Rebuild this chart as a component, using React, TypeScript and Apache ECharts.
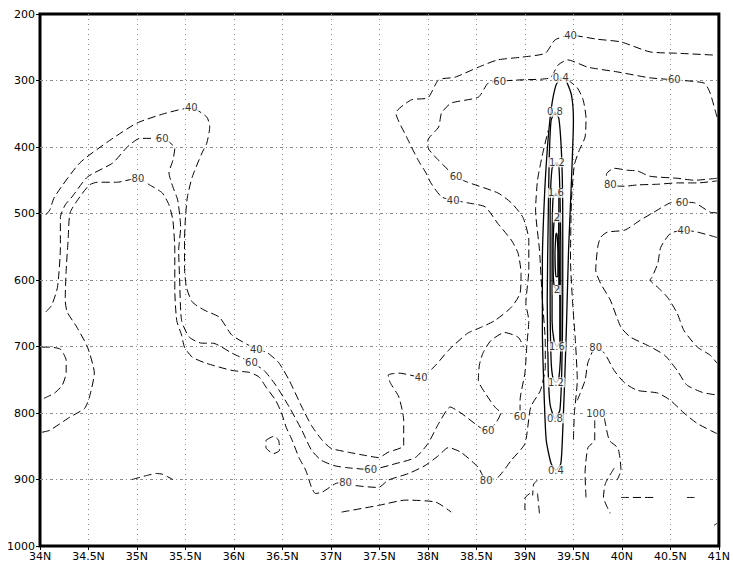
import React, { useEffect, useRef } from "react";
import * as echarts from "echarts";

// Axis ranges (latitude in degrees N, pressure in hPa)
const LAT_MIN = 34;
const LAT_MAX = 41;
const LAT_STEP = 0.5;
const P_MIN = 200;
const P_MAX = 1000;
const P_STEP = 100;

// Dashed contours: [latitude, pressure]
const c40Main = [
  [34.06, 502], [34.1, 495], [34.15, 475], [34.41, 424], [34.72, 390], [35.0, 364], [35.3, 349],
  [35.56, 341], [35.72, 355], [35.75, 370], [35.72, 394], [35.67, 409], [35.57, 445], [35.52, 475],
  [35.5, 506], [35.49, 540], [35.49, 581], [35.51, 611], [35.57, 633], [35.69, 645], [35.85, 656],
  [35.98, 683], [36.23, 704], [36.34, 709], [36.46, 724], [36.57, 751], [36.7, 791], [36.8, 819],
  [36.91, 841], [37.0, 853], [37.18, 859], [37.36, 864], [37.49, 867], [37.59, 859], [37.75, 849],
  [37.75, 811], [37.7, 776], [37.61, 754], [37.59, 743], [37.7, 740], [37.93, 746], [38.08, 728],
  [38.21, 706], [38.41, 680], [38.55, 671], [38.69, 661], [38.86, 641], [38.95, 620], [38.96, 590],
  [38.93, 560], [38.86, 540], [38.72, 515], [38.59, 490], [38.41, 484], [38.26, 480], [38.14, 475],
  [38.03, 454], [37.98, 439], [37.9, 420], [37.78, 385], [37.67, 349], [37.83, 329], [38.0, 326],
  [38.11, 299], [38.28, 295], [38.52, 280], [38.72, 269], [38.96, 265], [39.21, 259], [39.31, 239],
  [39.47, 232], [39.75, 238], [39.99, 242], [40.29, 257], [40.57, 259], [40.98, 262],
];
const c40Right = [
  [40.98, 536], [40.78, 528], [40.64, 525], [40.5, 530], [40.4, 551], [40.37, 575], [40.31, 596],
  [40.29, 600], [40.37, 611], [40.47, 626], [40.57, 650], [40.64, 676], [40.78, 701], [40.91, 713],
  [40.98, 725],
];
const c60Main = [
  [34.06, 648], [34.12, 638], [34.18, 611], [34.21, 551], [34.21, 506], [34.26, 487], [34.33, 475],
  [34.49, 445], [34.75, 424], [34.9, 400], [35.03, 387], [35.26, 387], [35.39, 402], [35.37, 420],
  [35.33, 439], [35.37, 460], [35.42, 480], [35.45, 521], [35.43, 555], [35.44, 600], [35.46, 661],
  [35.54, 686], [35.67, 695], [35.78, 695], [35.98, 710], [36.18, 724], [36.31, 736], [36.43, 758],
  [36.57, 791], [36.7, 826], [36.8, 856], [36.9, 871], [37.03, 879], [37.15, 882], [37.41, 885],
  [37.67, 876], [37.87, 867], [38.0, 846], [38.11, 816], [38.23, 791], [38.34, 800], [38.55, 823],
  [38.62, 826], [38.7, 815], [38.75, 800], [38.69, 791], [38.59, 770], [38.52, 751], [38.53, 728],
  [38.57, 709], [38.65, 691], [38.79, 679], [38.93, 686], [38.99, 701],
];
const c60Upper = [
  [40.98, 355], [40.91, 319], [40.85, 304], [40.54, 299], [40.29, 296], [39.95, 287], [39.65, 280],
  [39.44, 269], [39.34, 277], [39.26, 296], [38.96, 299], [38.74, 301], [38.62, 304], [38.52, 325],
  [38.24, 334], [38.14, 349], [38.11, 370], [38.0, 390], [38.0, 400], [38.11, 420], [38.29, 445],
  [38.41, 453], [38.72, 469], [38.86, 484], [38.98, 506], [39.04, 540], [39.04, 585], [39.01, 635],
  [39.04, 661], [39.02, 698], [39.0, 740], [38.95, 781], [38.95, 796],
];
const c60Right = [
  [40.98, 499], [40.91, 498], [40.75, 484], [40.62, 483], [40.5, 484], [40.33, 498], [40.19, 510],
  [40.03, 525], [39.85, 528], [39.78, 536], [39.75, 551], [39.73, 585], [39.78, 605], [39.88, 630],
  [39.99, 671], [40.09, 686], [40.26, 698], [40.44, 713], [40.57, 736], [40.67, 758], [40.83, 769],
  [40.98, 773],
];
const c80Main = [
  [34.02, 829], [34.1, 826], [34.31, 806], [34.46, 793], [34.51, 776], [34.56, 740], [34.49, 701],
  [34.38, 671], [34.28, 648], [34.26, 630], [34.27, 585], [34.29, 540], [34.31, 499], [34.41, 475],
  [34.51, 457], [34.59, 453], [34.79, 453], [35.01, 447], [35.13, 457], [35.26, 469], [35.33, 487],
  [35.37, 510], [35.39, 555], [35.39, 615], [35.41, 661], [35.46, 683], [35.49, 701], [35.57, 716],
  [35.71, 725], [35.98, 736], [36.16, 739], [36.26, 746], [36.33, 761], [36.43, 781], [36.49, 800],
  [36.54, 822], [36.6, 841], [36.67, 867], [36.74, 886], [36.8, 912], [36.84, 921], [36.91, 919],
  [37.05, 906], [37.15, 904], [37.25, 909], [37.49, 912], [37.59, 901], [37.8, 891], [37.97, 879],
  [38.11, 864], [38.21, 852], [38.34, 859], [38.52, 882], [38.6, 901], [38.72, 897], [38.86, 871],
  [39.0, 846], [39.06, 791], [39.16, 766], [39.21, 731], [39.21, 695], [39.18, 630], [39.15, 555],
  [39.11, 495], [39.13, 450], [39.18, 412], [39.24, 375],
];
const c80BandRight = [
  [39.44, 299], [39.54, 311], [39.6, 329], [39.63, 357], [39.62, 385], [39.56, 405], [39.51, 427],
  [39.48, 480], [39.47, 570], [39.49, 630], [39.52, 691], [39.54, 751], [39.51, 800], [39.5, 841],
];
const c80East = [
  [39.54, 781], [39.62, 751], [39.65, 724], [39.73, 701], [39.82, 710], [39.92, 736], [40.03, 755],
  [40.16, 766], [40.37, 770], [40.5, 781], [40.64, 800], [40.78, 816], [40.98, 831],
];
const c80NorthEast = [
  [40.98, 447], [40.75, 450], [40.57, 447], [40.29, 444], [40.16, 436], [40.06, 435], [39.92, 432],
  [39.84, 441], [39.88, 457], [40.03, 459], [40.16, 457], [40.37, 456], [40.57, 454], [40.78, 454],
  [40.98, 451],
];
const c100West = [[39.72, 811], [39.72, 841], [39.65, 852], [39.62, 891], [39.63, 927]];
const c100East = [[39.82, 808], [39.87, 841], [39.96, 853], [39.99, 886], [39.95, 901]];
const c100Inner = [[39.92, 883], [39.83, 906], [39.81, 927], [39.85, 942], [39.88, 951]];
const smallPieces = [
  [[39.99, 927], [40.33, 927]],
  [[40.67, 927], [40.75, 927]],
  [[40.95, 969], [40.98, 966]],
  [[37.11, 949], [37.49, 939], [37.77, 931], [38.08, 934], [38.24, 949]],
  [[34.95, 900], [35.1, 894], [35.2, 891], [35.26, 892], [35.37, 900]],
  [[36.33, 841], [36.41, 835], [36.46, 841], [36.47, 856], [36.41, 861], [36.33, 852], [36.33, 841]],
  [[39.13, 901], [39.09, 907], [39.08, 924]],
  [[39.13, 921], [39.15, 951]],
  [[39.05, 921], [39.0, 928], [39.0, 946]],
  [[34.02, 701], [34.1, 701], [34.21, 704], [34.27, 721], [34.27, 739], [34.23, 758], [34.15, 770], [34.04, 778]],
];

// Solid contours of the narrow band near 39.3N
const band04 = [
  [39.37, 296], [39.32, 307], [39.27, 344], [39.23, 405], [39.2, 480], [39.18, 570], [39.18, 676],
  [39.2, 781], [39.22, 841], [39.27, 876], [39.32, 886], [39.37, 876], [39.39, 826], [39.41, 751],
  [39.43, 661], [39.45, 555], [39.48, 450], [39.5, 360], [39.48, 322], [39.42, 299], [39.37, 296],
];
const band08 = [
  [39.31, 347], [39.27, 360], [39.25, 420], [39.24, 510], [39.23, 630], [39.24, 736], [39.26, 788],
  [39.31, 808], [39.36, 796], [39.38, 736], [39.39, 630], [39.39, 510], [39.38, 420], [39.35, 357],
  [39.31, 347],
];
const band12 = [
  [39.33, 423], [39.28, 432], [39.26, 510], [39.26, 630], [39.27, 721], [39.29, 748], [39.32, 754],
  [39.35, 748], [39.37, 691], [39.37, 555], [39.36, 465], [39.35, 429], [39.33, 423],
];
const band16 = [
  [39.32, 469], [39.29, 477], [39.28, 555], [39.28, 661], [39.3, 691], [39.33, 700], [39.36, 691],
  [39.36, 630], [39.35, 525], [39.35, 477], [39.32, 469],
];
const band20 = [
  [39.33, 506], [39.3, 513], [39.29, 570], [39.3, 608], [39.33, 615], [39.35, 608], [39.35, 555],
  [39.35, 513], [39.33, 506],
];
const band24 = [[39.32, 530], [39.31, 560], [39.32, 595], [39.34, 595], [39.34, 560], [39.33, 530], [39.32, 530]];

// Contour labels: [latitude, pressure, text]
const contourLabels = [
  [35.56, 341, "40"], [36.23, 704, "40"], [37.93, 746, "40"], [38.26, 480, "40"], [39.47, 232, "40"],
  [40.64, 525, "40"],
  [35.26, 387, "60"], [36.18, 724, "60"], [37.41, 885, "60"], [38.62, 826, "60"], [40.54, 299, "60"],
  [38.74, 301, "60"], [38.29, 445, "60"], [38.95, 806, "60"], [40.62, 483, "60"],
  [35.01, 447, "80"], [37.15, 904, "80"], [38.6, 901, "80"], [39.73, 701, "80"], [39.88, 457, "80"],
  [39.73, 800, "100"],
];
const bandLabels = [
  [39.37, 296, "0.4"], [39.32, 886, "0.4"], [39.31, 347, "0.8"], [39.31, 808, "0.8"],
  [39.33, 423, "1.2"], [39.32, 754, "1.2"], [39.32, 469, "1.6"], [39.33, 700, "1.6"],
  [39.33, 506, "2"], [39.33, 615, "2"],
];

const dashedLines = [
  c40Main, c40Right, c60Main, c60Upper, c60Right, c80Main, c80BandRight, c80East, c80NorthEast,
  c100West, c100East, c100Inner, ...smallPieces,
];
const solidLines = [band04, band08, band12, band16, band20, band24];

const FONT = "DejaVu Sans";

export default function App() {
  const ref = useRef<HTMLDivElement>(null);
  useEffect(() => {
    if (!ref.current) return;
    const chart = echarts.init(ref.current, null, { renderer: "svg" });
    const series: any[] = [];
    dashedLines.forEach((pts) =>
      series.push({
        type: "line",
        data: pts,
        showSymbol: false,
        smooth: 0.2,
        clip: true,
        silent: true,
        color: "#000",
        lineStyle: { color: "#000", width: 1, type: [8, 4] },
      })
    );
    solidLines.forEach((pts) =>
      series.push({
        type: "line",
        data: pts,
        showSymbol: false,
        smooth: 0.2,
        clip: true,
        silent: true,
        color: "#000",
        lineStyle: { color: "#000", width: 1.3, type: "solid" },
      })
    );
    const labelSeries = (data: any[], size: number) => ({
      type: "scatter",
      data,
      symbolSize: 0,
      silent: true,
      z: 10,
      itemStyle: { color: "#000" },
      label: {
        show: true,
        position: "inside",
        formatter: (p: any) => `{t|${p.value[2]}}`,
        rich: {
          t: {
            color: "#000",
            textBorderWidth: 0,
            fontFamily: FONT,
            fontSize: size,
            backgroundColor: "#fff",
            padding: [0, 1],
          },
        },
      },
    });
    series.push(labelSeries(contourLabels, 10));
    series.push(labelSeries(bandLabels, 10));

    chart.setOption({
      animation: false,
      backgroundColor: "#fff",
      color: ["#000"],
      grid: {
        left: 40,
        top: 14,
        right: 11,
        bottom: 22,
        show: true,
        borderColor: "#000",
        borderWidth: 3,
      },
      xAxis: {
        type: "value",
        min: LAT_MIN,
        max: LAT_MAX,
        interval: LAT_STEP,
        axisLine: { show: false },
        axisTick: { show: true, length: 4, lineStyle: { color: "#000", width: 1 } },
        axisLabel: {
          color: "#000",
          fontFamily: FONT,
          fontSize: 11,
          margin: 5,
          formatter: (v: number) => `${v}N`,
        },
        splitLine: {
          show: true,
          showMinLine: false,
          showMaxLine: false,
          lineStyle: { color: "#8a8a8a", width: 1, type: [1, 4] },
        },
      },
      yAxis: {
        type: "value",
        inverse: true,
        min: P_MIN,
        max: P_MAX,
        interval: P_STEP,
        axisLine: { show: false },
        axisTick: { show: true, length: 4, lineStyle: { color: "#000", width: 1 } },
        axisLabel: {
          color: "#000",
          fontFamily: FONT,
          fontSize: 11,
          margin: 5,
          formatter: (v: number) => String(v),
        },
        splitLine: {
          show: true,
          showMinLine: false,
          showMaxLine: false,
          lineStyle: { color: "#8a8a8a", width: 1, type: [3, 3, 1, 3] },
        },
      },
      series,
    });
    return () => chart.dispose();
  }, []);
  return (
    <div
      ref={ref}
      style={{ position: "fixed", left: 0, top: 0, width: 733, height: 568, background: "#fff" }}
    />
  );
}
